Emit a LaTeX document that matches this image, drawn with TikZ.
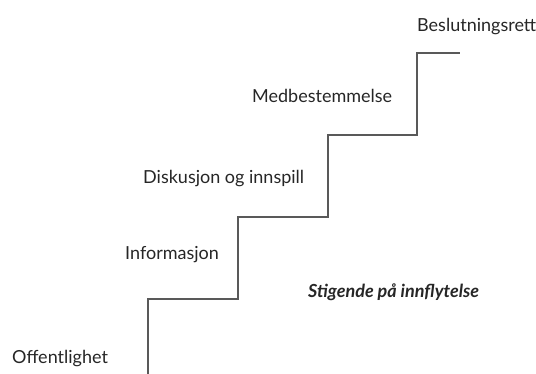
\documentclass[tikz,border=0pt]{standalone}
\usepackage{fontspec}
\setmainfont{Lato}
\begin{document}
\begin{tikzpicture}[x=1pt,y=-1pt,
  lbl/.style={anchor=base west,inner sep=0pt,font=\fontsize{18}{21}\selectfont,text=black!85},
  stair/.style={draw=black!65,line width=1.4pt}]
\useasboundingbox (0,0) rectangle (536,374);
\node[lbl] (off) at (12,363) {Offentlighet};
\node[lbl] (inf) at (125,260) {Informasjon};
\node[lbl] (dis) at (143,184) {Diskusjon og innspill};
\node[lbl] (med) at (252,103) {Medbestemmelse};
\node[lbl] (bes) at (417,32) {Beslutningsrett};
\node[lbl,font=\fontsize{18}{21}\selectfont\bfseries\itshape] (sti) at (308,298) {Stigende på innflytelse};
\coordinate (s0) at (148,374);
\coordinate (s1) at (148,299);
\coordinate (s2) at (238,299);
\coordinate (s3) at (238,217);
\coordinate (s4) at (328,217);
\coordinate (s5) at (328,135);
\coordinate (s6) at (417,135);
\coordinate (s7) at (417,53);
\coordinate (s8) at (460,53);
\draw[stair] (s0) -- (s1) -- (s2) -- (s3) -- (s4) -- (s5) -- (s6) -- (s7) -- (s8);
\end{tikzpicture}
\end{document}
